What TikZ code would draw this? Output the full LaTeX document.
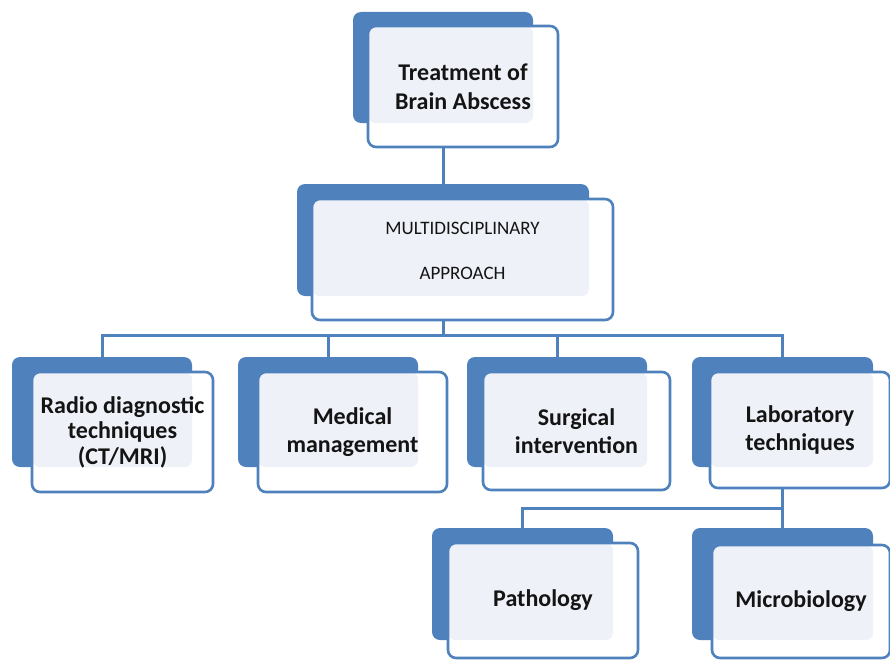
\documentclass[tikz,border=0pt]{standalone}
\usepackage{fontspec}
\setmainfont{Carlito}
\usetikzlibrary{backgrounds}
\definecolor{boxblue}{RGB}{79,129,189}
\definecolor{soft}{RGB}{238,241,247}
\definecolor{ink}{RGB}{20,20,20}
\begin{document}
\begin{tikzpicture}[
	x=1pt,y=-1pt,
	back/.style={
		rectangle,
		rounded corners=8pt,
		fill=boxblue,
		minimum width=180pt,
		minimum height=110pt
	},
	front/.style={% white box, light where it lies on the blue one
		rectangle,
		rounded corners=8pt,
		draw=boxblue,
		line width=2.6pt,
		fill=white,
		align=center,
		text=ink,
		font=\bfseries\fontsize{24}{28.5}\selectfont,
		path picture={\fill[soft,rounded corners=8pt] (path picture bounding box.north west) rectangle (#1.south east);}
	},
	link/.style={
		draw=boxblue,
		line width=3pt
	},
]
	\useasboundingbox (0,0) rectangle (890,661);

	\node [back, minimum width=180pt, minimum height=111pt] (topB) at (443,67.5) {};
	\node [front=topB, minimum width=190pt, minimum height=121pt] (top) at (463,86.5) {Treatment of\\Brain Abscess};

	\node [back, minimum width=292pt, minimum height=112pt] (multiB) at (443,240) {};
	\node [front=multiB, minimum width=301pt, minimum height=121pt, font=\fontsize{19}{45}\selectfont] (multi) at (462.5,259.5) {MULTIDISCIPLINARY\\APPROACH\rule[-18pt]{0pt}{18pt}};

	\node [back] (radioB) at (102,412) {};
	\node [front=radioB, minimum width=181pt, minimum height=120pt, font=\bfseries\fontsize{24}{25.5}\selectfont] (radio) at (122.5,432) {Radio diagnostic\\techniques\\(CT/MRI)};

	\node [back] (medB) at (328,412) {};
	\node [front=medB, minimum width=189pt, minimum height=120pt] (med) at (352.5,432) {Medical\\management};

	\node [back] (surgB) at (557,412) {};
	\node [front=surgB, minimum width=187pt, minimum height=118pt] (surg) at (576.5,431) {Surgical\\intervention};

	\node [back, minimum width=181pt] (labB) at (782.5,412) {};
	\node [front=labB, minimum width=180pt, minimum height=116pt] (lab) at (800,430) {Laboratory\\techniques};

	\node [back, minimum width=181pt, minimum height=112pt] (pathB) at (522.5,584) {};
	\node [front=pathB, minimum width=190pt, minimum height=115pt] (path) at (543,600.5) {Pathology};

	\node [back, minimum width=181pt, minimum height=112pt] (microB) at (782.5,584) {};
	\node [front=microB, minimum width=178pt, minimum height=113pt] (micro) at (801,601.5) {Microbiology};

	\begin{scope}[on background layer]
		\draw [link] (topB.south) -- (multiB.north);

		\coordinate (bus) at ([yshift=-39pt]multiB.south);
		\draw [link] (multiB.south) -- (bus);
		\draw [link] (bus) -| (radioB.north);
		\draw [link] (bus) -| (medB.north);
		\draw [link] (bus) -| (surgB.north);
		\draw [link] (bus) -| (labB.north);

		\coordinate (labbus) at ([yshift=-41pt]labB.south);
		\draw [link] (labB.south) -- (labbus);
		\draw [link] (labbus) -| (pathB.north);
		\draw [link] (labbus) -| (microB.north);
	\end{scope}
\end{tikzpicture}
\end{document}
